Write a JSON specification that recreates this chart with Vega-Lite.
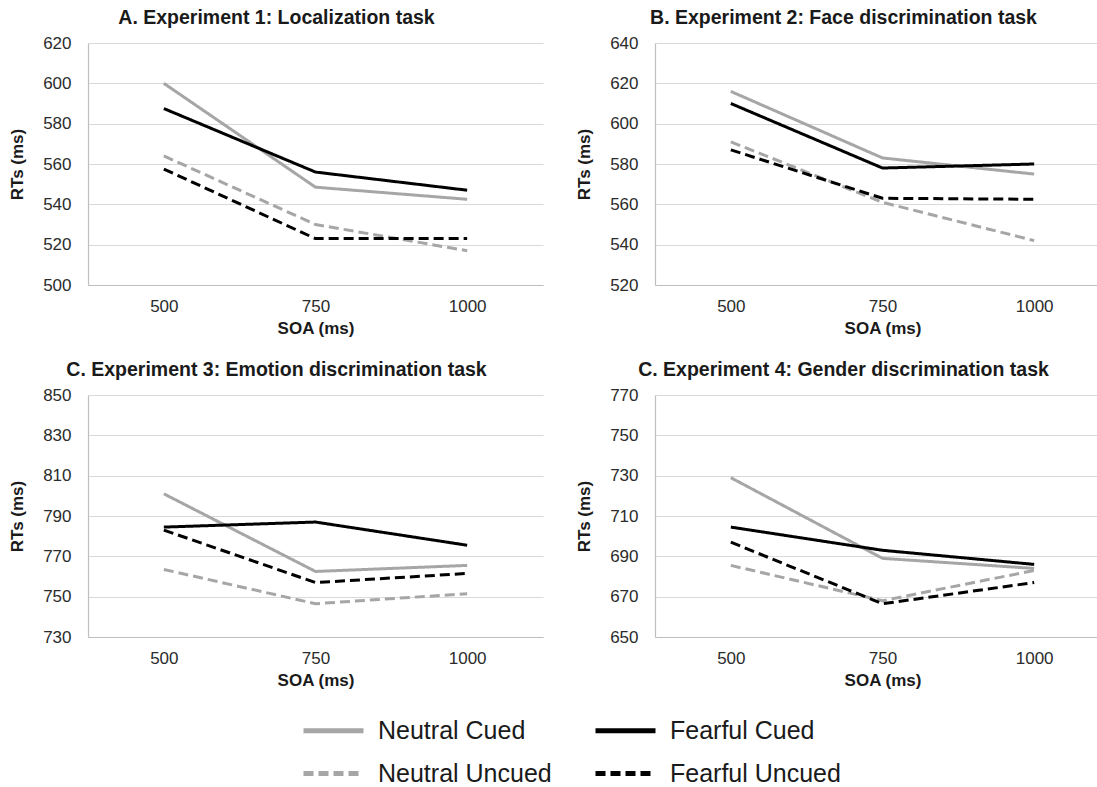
{
  "$schema": "https://vega.github.io/schema/vega-lite/v6.json",
  "background": "white",
  "padding": {"left": 8, "top": 7, "right": 0, "bottom": 0},
  "config": {
    "font": "Liberation Sans",
    "view": {"stroke": null},
    "axis": {
      "ticks": false,
      "domainColor": "#bfbfbf",
      "domainWidth": 1.2,
      "gridColor": "#d9d9d9",
      "gridWidth": 1.2,
      "labelFontSize": 17,
      "labelColor": "#2b2b2b",
      "titleFontSize": 17,
      "titleFontWeight": "bold",
      "titleColor": "#1a1a1a"
    },
    "axisY": {"labelPadding": 17, "titlePadding": 16},
    "axisX": {"labelPadding": 13, "titlePadding": 6, "labelAngle": 0, "grid": false},
    "title": {"fontSize": 19.5, "fontWeight": "bold", "color": "#1a1a1a", "offset": 6}
  },
  "data": {"values": [
    {"exp": "A", "SOA": 500, "cond": "Neutral Cued", "RT": 600},
    {"exp": "A", "SOA": 750, "cond": "Neutral Cued", "RT": 548.5},
    {"exp": "A", "SOA": 1000, "cond": "Neutral Cued", "RT": 542.5},
    {"exp": "A", "SOA": 500, "cond": "Fearful Cued", "RT": 587.5},
    {"exp": "A", "SOA": 750, "cond": "Fearful Cued", "RT": 556},
    {"exp": "A", "SOA": 1000, "cond": "Fearful Cued", "RT": 547},
    {"exp": "A", "SOA": 500, "cond": "Neutral Uncued", "RT": 564},
    {"exp": "A", "SOA": 750, "cond": "Neutral Uncued", "RT": 530},
    {"exp": "A", "SOA": 1000, "cond": "Neutral Uncued", "RT": 517},
    {"exp": "A", "SOA": 500, "cond": "Fearful Uncued", "RT": 557.5},
    {"exp": "A", "SOA": 750, "cond": "Fearful Uncued", "RT": 523},
    {"exp": "A", "SOA": 1000, "cond": "Fearful Uncued", "RT": 523},
    {"exp": "B", "SOA": 500, "cond": "Neutral Cued", "RT": 616},
    {"exp": "B", "SOA": 750, "cond": "Neutral Cued", "RT": 583},
    {"exp": "B", "SOA": 1000, "cond": "Neutral Cued", "RT": 575},
    {"exp": "B", "SOA": 500, "cond": "Fearful Cued", "RT": 610},
    {"exp": "B", "SOA": 750, "cond": "Fearful Cued", "RT": 578},
    {"exp": "B", "SOA": 1000, "cond": "Fearful Cued", "RT": 580},
    {"exp": "B", "SOA": 500, "cond": "Neutral Uncued", "RT": 591},
    {"exp": "B", "SOA": 750, "cond": "Neutral Uncued", "RT": 561},
    {"exp": "B", "SOA": 1000, "cond": "Neutral Uncued", "RT": 542},
    {"exp": "B", "SOA": 500, "cond": "Fearful Uncued", "RT": 587},
    {"exp": "B", "SOA": 750, "cond": "Fearful Uncued", "RT": 563},
    {"exp": "B", "SOA": 1000, "cond": "Fearful Uncued", "RT": 562.5},
    {"exp": "C", "SOA": 500, "cond": "Neutral Cued", "RT": 801},
    {"exp": "C", "SOA": 750, "cond": "Neutral Cued", "RT": 762.5},
    {"exp": "C", "SOA": 1000, "cond": "Neutral Cued", "RT": 765.5},
    {"exp": "C", "SOA": 500, "cond": "Fearful Cued", "RT": 784.5},
    {"exp": "C", "SOA": 750, "cond": "Fearful Cued", "RT": 787},
    {"exp": "C", "SOA": 1000, "cond": "Fearful Cued", "RT": 775.5},
    {"exp": "C", "SOA": 500, "cond": "Neutral Uncued", "RT": 763.5},
    {"exp": "C", "SOA": 750, "cond": "Neutral Uncued", "RT": 746.5},
    {"exp": "C", "SOA": 1000, "cond": "Neutral Uncued", "RT": 751.5},
    {"exp": "C", "SOA": 500, "cond": "Fearful Uncued", "RT": 783},
    {"exp": "C", "SOA": 750, "cond": "Fearful Uncued", "RT": 757},
    {"exp": "C", "SOA": 1000, "cond": "Fearful Uncued", "RT": 761.5},
    {"exp": "D", "SOA": 500, "cond": "Neutral Cued", "RT": 729},
    {"exp": "D", "SOA": 750, "cond": "Neutral Cued", "RT": 689},
    {"exp": "D", "SOA": 1000, "cond": "Neutral Cued", "RT": 684},
    {"exp": "D", "SOA": 500, "cond": "Fearful Cued", "RT": 704.5},
    {"exp": "D", "SOA": 750, "cond": "Fearful Cued", "RT": 693},
    {"exp": "D", "SOA": 1000, "cond": "Fearful Cued", "RT": 686},
    {"exp": "D", "SOA": 500, "cond": "Neutral Uncued", "RT": 685.5},
    {"exp": "D", "SOA": 750, "cond": "Neutral Uncued", "RT": 668},
    {"exp": "D", "SOA": 1000, "cond": "Neutral Uncued", "RT": 683},
    {"exp": "D", "SOA": 500, "cond": "Fearful Uncued", "RT": 697},
    {"exp": "D", "SOA": 750, "cond": "Fearful Uncued", "RT": 666.5},
    {"exp": "D", "SOA": 1000, "cond": "Fearful Uncued", "RT": 677}
  ]},
  "spacing": 23,
  "vconcat": [
    {
      "spacing": 32,
      "hconcat": [
        {
          "title": {"text": "A. Experiment 1: Localization task", "dx": -39},
          "width": 455, "height": 242,
          "transform": [{"filter": "datum.exp == 'A'"}],
          "mark": {"type": "line", "strokeWidth": 3},
          "encoding": {
            "x": {"field": "SOA", "type": "ordinal", "scale": {"type": "point", "padding": 0.5}, "title": "SOA (ms)"},
            "y": {"field": "RT", "type": "quantitative", "scale": {"domain": [500, 620], "nice": false, "zero": false}, "axis": {"values": [500, 520, 540, 560, 580, 600, 620]}, "title": "RTs (ms)"},
            "color": {"field": "cond", "type": "nominal", "scale": {"domain": ["Neutral Cued", "Fearful Cued", "Neutral Uncued", "Fearful Uncued"], "range": ["#a6a6a6", "#000000", "#a6a6a6", "#000000"]}, "title": null},
            "strokeDash": {"field": "cond", "type": "nominal", "scale": {"domain": ["Neutral Cued", "Fearful Cued", "Neutral Uncued", "Fearful Uncued"], "range": [[1, 0], [1, 0], [10, 5], [10, 5]]}, "legend": null}
          }
        },
        {
          "title": {"text": "B. Experiment 2: Face discrimination task", "dx": -39},
          "width": 455, "height": 242,
          "transform": [{"filter": "datum.exp == 'B'"}],
          "mark": {"type": "line", "strokeWidth": 3},
          "encoding": {
            "x": {"field": "SOA", "type": "ordinal", "scale": {"type": "point", "padding": 0.5}, "title": "SOA (ms)"},
            "y": {"field": "RT", "type": "quantitative", "scale": {"domain": [520, 640], "nice": false, "zero": false}, "axis": {"values": [520, 540, 560, 580, 600, 620, 640]}, "title": "RTs (ms)"},
            "color": {"field": "cond", "type": "nominal", "scale": {"domain": ["Neutral Cued", "Fearful Cued", "Neutral Uncued", "Fearful Uncued"], "range": ["#a6a6a6", "#000000", "#a6a6a6", "#000000"]}, "title": null},
            "strokeDash": {"field": "cond", "type": "nominal", "scale": {"domain": ["Neutral Cued", "Fearful Cued", "Neutral Uncued", "Fearful Uncued"], "range": [[1, 0], [1, 0], [10, 5], [10, 5]]}, "legend": null}
          }
        }
      ]
    },
    {
      "spacing": 32,
      "hconcat": [
        {
          "title": {"text": "C. Experiment 3: Emotion discrimination task", "dx": -39},
          "width": 455, "height": 242,
          "transform": [{"filter": "datum.exp == 'C'"}],
          "mark": {"type": "line", "strokeWidth": 3},
          "encoding": {
            "x": {"field": "SOA", "type": "ordinal", "scale": {"type": "point", "padding": 0.5}, "title": "SOA (ms)"},
            "y": {"field": "RT", "type": "quantitative", "scale": {"domain": [730, 850], "nice": false, "zero": false}, "axis": {"values": [730, 750, 770, 790, 810, 830, 850]}, "title": "RTs (ms)"},
            "color": {"field": "cond", "type": "nominal", "scale": {"domain": ["Neutral Cued", "Fearful Cued", "Neutral Uncued", "Fearful Uncued"], "range": ["#a6a6a6", "#000000", "#a6a6a6", "#000000"]}, "title": null},
            "strokeDash": {"field": "cond", "type": "nominal", "scale": {"domain": ["Neutral Cued", "Fearful Cued", "Neutral Uncued", "Fearful Uncued"], "range": [[1, 0], [1, 0], [10, 5], [10, 5]]}, "legend": null}
          }
        },
        {
          "title": {"text": "C. Experiment 4: Gender discrimination task", "dx": -39},
          "width": 455, "height": 242,
          "transform": [{"filter": "datum.exp == 'D'"}],
          "mark": {"type": "line", "strokeWidth": 3},
          "encoding": {
            "x": {"field": "SOA", "type": "ordinal", "scale": {"type": "point", "padding": 0.5}, "title": "SOA (ms)"},
            "y": {"field": "RT", "type": "quantitative", "scale": {"domain": [650, 770], "nice": false, "zero": false}, "axis": {"values": [650, 670, 690, 710, 730, 750, 770]}, "title": "RTs (ms)"},
            "color": {"field": "cond", "type": "nominal", "scale": {"domain": ["Neutral Cued", "Fearful Cued", "Neutral Uncued", "Fearful Uncued"], "range": ["#a6a6a6", "#000000", "#a6a6a6", "#000000"]}, "title": null,
              "legend": {"orient": "none", "legendX": 228, "legendY": 670, "direction": "horizontal", "columns": 2, "columnPadding": 33, "rowPadding": 12,
                "symbolType": "M-2,0H2", "symbolSize": 900, "symbolStrokeWidth": 5, "labelOffset": 27, "labelFontSize": 25, "labelColor": "#1a1a1a", "labelLimit": 400,
                "encode": {"symbols": {"enter": {"strokeDash": {"signal": "datum.label == 'Neutral Uncued' || datum.label == 'Fearful Uncued' ? [14, 9] : [1, 0]"}}, "update": {"strokeDash": {"signal": "datum.label == 'Neutral Uncued' || datum.label == 'Fearful Uncued' ? [14, 9] : [1, 0]"}}}}}},
            "strokeDash": {"field": "cond", "type": "nominal", "scale": {"domain": ["Neutral Cued", "Fearful Cued", "Neutral Uncued", "Fearful Uncued"], "range": [[1, 0], [1, 0], [10, 5], [10, 5]]}, "legend": null}
          }
        }
      ]
    }
  ]
}
